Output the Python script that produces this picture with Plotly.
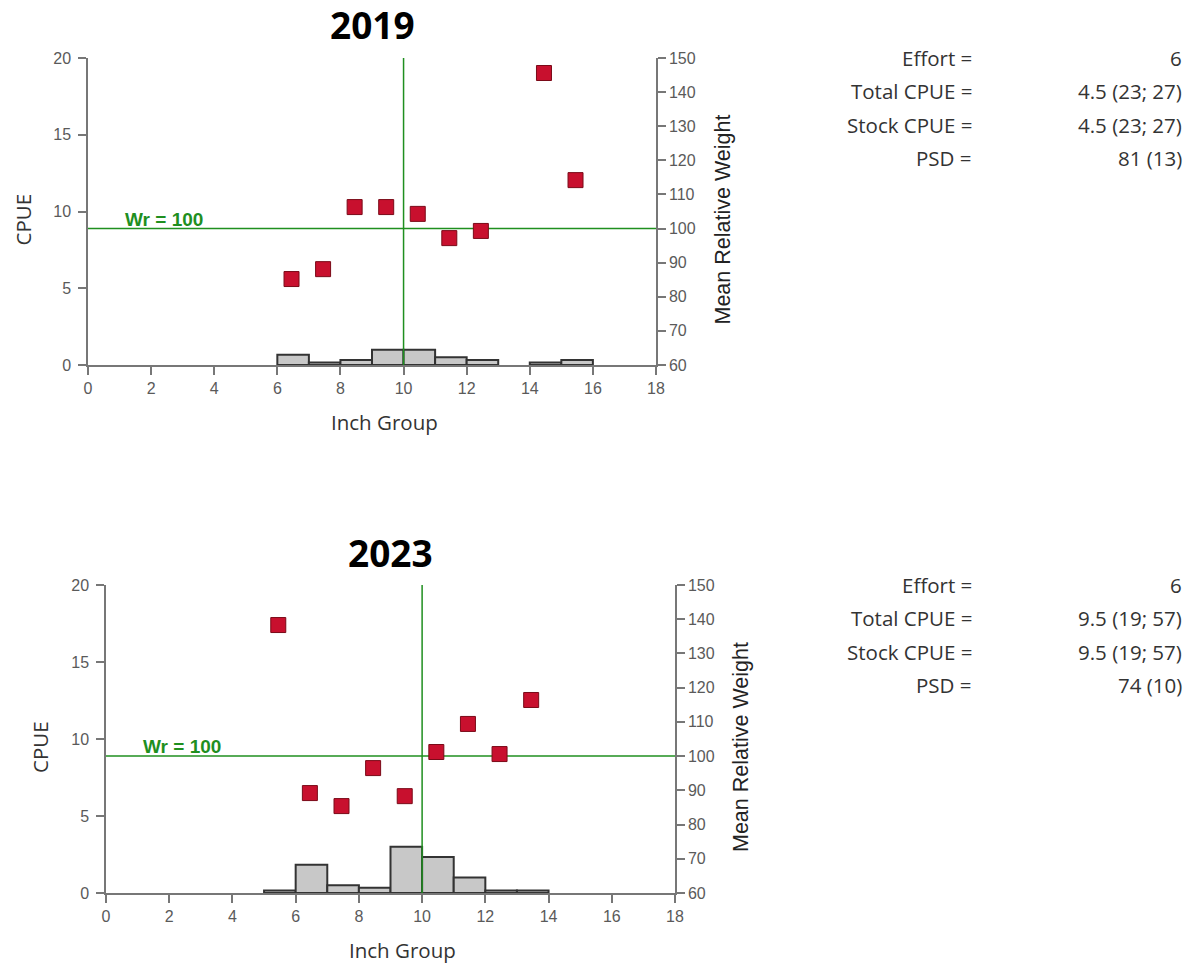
import plotly.graph_objects as go

# ---- data -------------------------------------------------------------
years = ["2019", "2023"]

# CPUE by inch group (bin start, fish per unit effort)
bins_2019 = [6, 7, 8, 9, 10, 11, 12, 14, 15]
cpue_2019 = [0.667, 0.167, 0.333, 1.0, 1.0, 0.5, 0.333, 0.167, 0.333]
bins_2023 = [5, 6, 7, 8, 9, 10, 11, 12, 13]
cpue_2023 = [0.167, 1.833, 0.5, 0.333, 3.0, 2.333, 1.0, 0.167, 0.167]

# Mean relative weight by inch group
wr_bins_2019 = [6, 7, 8, 9, 10, 11, 12, 14, 15]
wr_2019 = [85.2, 88.1, 106.3, 106.3, 104.3, 97.2, 99.3, 145.6, 114.2]
wr_bins_2023 = [5, 6, 7, 8, 9, 10, 11, 12, 13]
wr_2023 = [138.3, 89.2, 85.4, 96.5, 88.3, 101.2, 109.4, 100.6, 116.4]

stat_labels = ["Effort =", "Total CPUE =", "Stock CPUE =", "PSD ="]
stats_2019 = ["6", "4.5 (23; 27)", "4.5 (23; 27)", "81 (13)"]
stats_2023 = ["6", "9.5 (19; 57)", "9.5 (19; 57)", "74 (10)"]

x_ticks = list(range(0, 19, 2))
cpue_ticks = [0, 5, 10, 15, 20]
wr_ticks = list(range(60, 151, 10))
split_value = 10
wr_ref = 100

# ---- layout geometry (pixels) ----------------------------------------
W, H = 1193, 965
panels = [
    dict(left=88, right=656, top=58, bottom=365),
    dict(left=106, right=675, top=585, bottom=893),
]

def px(x):
    return x / W

def py(y):
    return 1 - y / H

TICK_FONT = dict(family="Liberation Sans, Arial", size=16, color="#5a5a5a")
LABEL_FONT = dict(family="Open Sans, Noto Sans", size=20.5, color="#333333")
AXIS_COLOR = "#777777"
GREEN = "#1f8f1f"

fig = go.Figure()
layout = dict(
    width=W, height=H, margin=dict(l=0, r=0, t=0, b=0, autoexpand=False),
    plot_bgcolor="white", paper_bgcolor="white", showlegend=False,
    template="none",
)
annotations = []

series = [
    (bins_2019, cpue_2019, wr_bins_2019, wr_2019, stats_2019),
    (bins_2023, cpue_2023, wr_bins_2023, wr_2023, stats_2023),
]

axis_common = dict(
    showgrid=False, zeroline=False, showline=True, linecolor=AXIS_COLOR,
    linewidth=1.5, ticks="outside", ticklen=8, tickwidth=1.5,
    tickcolor=AXIS_COLOR, tickfont=TICK_FONT, fixedrange=True,
    automargin=False,
)

for i, (year, (b, c, wb, w, st), p) in enumerate(zip(years, series, panels)):
    xa = "x" if i == 0 else f"x{i + 1}"
    ya = "y" if i == 0 else f"y{2 * i + 1}"
    ya2 = f"y{2 * i + 2}"
    xkey = "xaxis" if i == 0 else f"xaxis{i + 1}"
    ykey = "yaxis" if i == 0 else f"yaxis{2 * i + 1}"
    y2key = f"yaxis{2 * i + 2}"

    xdom = [px(p["left"]), px(p["right"])]
    ydom = [py(p["bottom"]), py(p["top"])]

    fig.add_trace(go.Bar(
        x=[v + 0.5 for v in b], y=c, width=1.0,
        marker=dict(color="#c8c8c8", line=dict(color="#333333", width=2)),
        xaxis=xa, yaxis=ya, hoverinfo="skip",
    ))

    # reference lines: split inch group and Wr = 100
    fig.add_trace(go.Scatter(
        x=[split_value, split_value], y=[0, 20], mode="lines",
        line=dict(color=GREEN, width=1.5), xaxis=xa, yaxis=ya, hoverinfo="skip",
    ))
    fig.add_trace(go.Scatter(
        x=[0, 18], y=[wr_ref, wr_ref], mode="lines",
        line=dict(color=GREEN, width=1.5), xaxis=xa, yaxis=ya2, hoverinfo="skip",
    ))

    fig.add_trace(go.Scatter(
        x=[v + 0.45 for v in wb], y=w, mode="markers",
        marker=dict(symbol="square", size=15, color="#c8102e",
                    line=dict(color="#7a0a18", width=1)),
        xaxis=xa, yaxis=ya2,
    ))

    layout[xkey] = dict(domain=xdom, anchor=ya, range=[0, 18],
                        tickvals=x_ticks, **axis_common)
    layout[ykey] = dict(domain=ydom, anchor=xa, range=[0, 20],
                        tickvals=cpue_ticks, ticklabelstandoff=4, **axis_common)
    layout[y2key] = dict(domain=ydom, anchor=xa, overlaying=ya, side="right",
                         range=[60, 150], tickvals=wr_ticks, **axis_common)

    cx = (p["left"] + p["right"]) / 2
    cy = (p["top"] + p["bottom"]) / 2

    annotations += [
        dict(text=f"<b>{year}</b>", x=px(cx), y=py(p["top"] - 33), xref="paper",
             yref="paper", showarrow=False, xanchor="center", yanchor="middle",
             font=dict(family="Noto Sans, Open Sans", size=37, color="black")),
        dict(text="Inch Group", x=px(cx + 12), y=py(p["bottom"] + 57), xref="paper",
             yref="paper", showarrow=False, xanchor="center", yanchor="middle",
             font=LABEL_FONT),
        dict(text="CPUE", x=px(p["left"] - 66), y=py(cy + 8), xref="paper",
             yref="paper", showarrow=False, xanchor="center", yanchor="middle",
             textangle=-90, font=LABEL_FONT),
        dict(text="Mean Relative Weight", x=px(p["right"] + 66), y=py(cy + 8),
             xref="paper", yref="paper", showarrow=False, xanchor="center",
             yanchor="middle", textangle=-90,
             font=dict(family="Liberation Sans, Arial", size=21.5, color="#222222")),
        dict(text="<b>Wr = 100</b>", x=1.1, y=wr_ref, xref=xa, yref=ya2,
             showarrow=False, xanchor="left", yanchor="bottom", yshift=-3,
             font=dict(family="Liberation Sans, Arial", size=19, color=GREEN)),
    ]

    for k, (lab, val) in enumerate(zip(stat_labels, st)):
        yy = p["top"] + k * 33.4
        annotations.append(dict(
            text=lab, x=px(974), y=py(yy), xref="paper", yref="paper",
            showarrow=False, xanchor="right", yanchor="middle", font=LABEL_FONT))
        annotations.append(dict(
            text=val, x=px(1184), y=py(yy), xref="paper", yref="paper",
            showarrow=False, xanchor="right", yanchor="middle", font=LABEL_FONT))

layout["annotations"] = annotations
fig.update_layout(**layout)
fig.write_html("out.html")
